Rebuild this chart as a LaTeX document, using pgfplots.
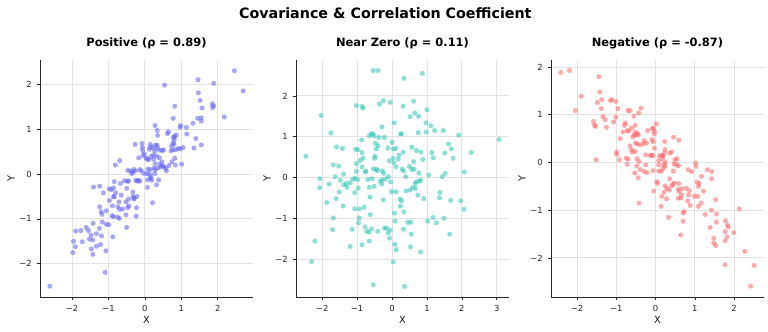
\documentclass[border=0pt]{standalone}
\usepackage{pgfplots}
\pgfplotsset{compat=1.18}
\usepackage{pgfplotstable}
\usepackage{fontspec}
\setmainfont{DejaVu Sans}
\definecolor{cpos}{RGB}{95,95,242}
\definecolor{czero}{RGB}{46,196,182}
\definecolor{cneg}{RGB}{255,100,100}
\definecolor{gridc}{RGB}{226,226,226}
\definecolor{spine}{RGB}{40,40,40}

\pgfplotstableread{
x y
2.46 2.30
2.70 1.85
1.46 2.10
1.89 2.02
0.54 1.98
1.47 1.81
1.52 1.64
1.85 1.56
1.89 1.52
1.86 1.48
1.57 1.47
0.82 1.51
2.18 1.27
1.45 1.24
1.55 1.25
1.55 1.18
1.32 1.13
0.78 1.24
0.98 1.08
0.97 1.04
1.14 1.04
0.28 1.08
0.34 0.97
0.35 0.86
0.65 0.94
0.62 0.90
1.15 0.89
0.86 0.87
0.82 0.84
0.78 0.82
0.81 0.77
0.78 0.70
0.80 0.66
1.40 0.79
1.55 0.65
1.35 0.58
1.05 0.59
0.92 0.57
0.97 0.56
0.73 0.63
0.77 0.54
0.85 0.54
0.72 0.52
-0.27 0.66
-0.08 0.68
-0.07 0.59
-0.06 0.52
0.15 0.66
0.29 0.64
0.34 0.64
0.16 0.60
0.23 0.58
0.35 0.57
0.12 0.55
0.27 0.51
0.41 0.53
0.48 0.52
0.51 0.54
-0.01 0.44
-0.05 0.41
0.04 0.35
0.07 0.33
-0.17 0.36
0.10 0.32
0.17 0.39
0.23 0.42
0.32 0.40
0.24 0.33
0.40 0.36
0.82 0.35
0.74 0.27
0.84 0.20
1.01 0.22
0.47 0.27
0.28 0.23
0.41 0.22
0.49 0.18
0.36 0.13
0.44 0.16
0.52 0.16
0.58 0.13
0.66 0.19
0.25 0.13
0.08 0.11
0.15 0.10
0.29 0.10
0.59 0.07
-0.69 0.30
-0.81 0.20
-0.47 0.08
-0.39 0.07
-0.33 0.04
-0.30 0.10
-0.26 0.07
-0.36 0.01
-0.14 0.10
-0.10 0.07
-0.02 0.01
0.06 0.01
0.13 -0.01
0.17 -0.07
0.15 -0.10
0.07 -0.13
0.19 -0.14
0.27 0.01
0.38 -0.13
0.32 -0.24
-0.21 -0.16
-0.17 -0.14
-0.25 -0.14
-0.14 -0.16
-0.56 -0.15
-0.48 -0.16
-0.45 -0.16
-0.67 -0.21
-0.84 -0.17
-1.41 -0.29
-1.24 -0.27
-1.14 -0.42
-0.98 -0.33
-0.92 -0.35
-0.86 -0.31
-0.80 -0.42
-0.84 -0.51
-0.97 -0.59
-0.86 -0.50
-0.65 -0.47
-0.50 -0.32
-0.33 -0.40
-0.33 -0.50
-0.29 -0.53
-0.22 -0.50
-0.30 -0.56
-0.45 -0.56
-0.52 -0.62
-0.71 -0.62
-0.89 -0.71
-0.74 -0.73
-0.69 -0.79
-0.61 -0.78
-0.47 -0.75
-0.44 -0.71
-0.23 -0.75
-0.24 -0.94
-0.52 -0.91
-0.75 -0.96
-0.70 -0.99
-0.90 -0.93
-0.86 -0.95
-1.24 -0.73
-1.20 -0.84
-1.18 -0.90
-1.06 -0.82
-1.17 -1.07
-1.06 -1.12
-0.99 -1.13
-1.42 -1.10
-1.25 -1.21
-1.33 -1.33
-1.19 -1.38
-1.48 -1.36
-1.61 -1.19
-1.55 -1.26
-1.76 -1.26
-1.90 -1.27
-1.96 -1.50
-1.72 -1.51
-1.91 -1.62
-1.52 -1.45
-1.43 -1.47
-1.22 -1.57
-1.33 -1.61
-1.47 -1.67
-1.43 -1.79
-1.98 -1.75
-1.07 -1.71
-0.88 -1.40
-0.50 -1.19
0.21 -0.64
0.07 -0.30
-1.09 -2.19
-2.61 -2.50
}\pos

\pgfplotstableread{
x y
-0.54 2.62
-0.40 2.62
0.34 2.43
0.87 2.55
-2.03 1.52
-1.02 1.76
-0.86 1.74
-0.83 1.70
-0.36 1.80
-0.25 1.88
-0.05 1.84
0.32 1.75
0.62 1.87
0.65 1.58
0.52 1.49
0.76 1.50
1.00 1.66
0.97 1.34
1.11 1.27
1.22 1.15
1.47 1.15
1.91 1.04
-0.29 1.24
0.06 1.34
-1.75 1.09
-0.87 0.92
-0.65 1.02
-0.60 1.07
-0.55 1.07
-0.51 1.02
-0.38 0.98
-0.22 0.98
0.25 1.07
0.27 1.07
0.98 1.11
0.75 1.10
-1.59 0.75
-1.42 0.71
-1.04 0.69
-0.97 0.68
-0.86 0.61
-0.48 0.84
-0.45 0.70
-0.40 0.78
-0.12 0.72
0.00 0.86
0.04 0.70
0.11 0.71
0.20 0.55
0.32 0.62
0.57 0.74
0.70 0.66
0.83 0.62
0.88 0.44
1.14 0.61
1.18 0.48
1.62 0.82
1.51 0.60
1.70 0.70
1.75 0.47
2.27 0.61
-2.47 0.52
-1.68 0.31
-1.53 0.28
-0.91 0.42
-1.02 0.34
-0.83 0.47
-1.02 0.15
-0.86 0.26
-0.75 0.16
-0.76 0.13
-0.53 0.21
-0.45 0.20
-0.42 0.17
-0.50 0.47
-0.49 0.52
-0.28 0.16
-0.24 0.10
-0.08 0.41
0.05 0.36
0.03 0.47
0.18 0.45
0.29 0.21
0.33 0.16
0.50 0.27
0.57 0.20
0.62 0.39
0.63 0.20
0.77 0.11
0.11 0.26
-1.63 0.02
-2.07 -0.03
-2.07 -0.25
-1.80 -0.16
-1.48 -0.07
-1.39 0.08
-1.31 -0.15
-1.38 -0.18
-1.29 -0.24
-1.20 -0.13
-1.12 -0.04
-1.06 -0.02
-0.98 -0.05
-0.69 -0.05
-0.57 -0.03
-0.65 -0.24
-0.51 -0.22
-0.34 -0.09
-0.28 -0.06
-0.19 -0.04
-0.10 0.02
-0.04 -0.11
-0.29 -0.16
-0.97 -0.26
-1.07 -0.37
-1.51 -0.36
-1.60 -0.52
-1.87 -0.61
-1.40 -0.70
-1.07 -0.77
-0.93 -0.77
-0.80 -0.73
-0.25 -0.55
-0.02 -0.35
0.11 -0.35
0.23 -0.53
0.27 -0.57
0.40 -0.33
0.52 -0.31
0.59 -0.25
0.67 -0.27
0.66 -0.15
0.78 -0.09
0.82 -0.07
0.69 -0.11
0.39 0.02
0.74 -0.43
0.91 -0.52
1.37 -0.37
1.36 -0.50
1.44 0.02
1.52 0.10
1.68 -0.56
1.97 -0.57
2.06 -0.78
2.07 0.13
1.05 0.06
3.07 0.93
-0.63 -0.48
-0.62 -0.91
-0.94 -0.99
-0.96 -1.11
-1.68 -0.99
-1.70 -1.28
-1.14 -1.27
-0.77 -1.21
-0.72 -1.32
-0.65 -1.34
-0.59 -1.26
-0.65 -1.56
-0.41 -1.32
-0.21 -1.24
-0.16 -1.24
-0.11 -1.36
-0.07 -1.49
-0.05 -1.29
0.09 -1.07
0.07 -0.87
0.24 -0.70
0.34 -0.84
0.45 -1.10
0.54 -1.10
0.55 -1.39
0.53 -1.70
0.33 -1.27
0.08 -1.64
0.12 -1.77
0.04 -2.07
0.82 -1.83
1.02 -1.07
1.17 -0.98
1.27 -1.11
1.49 -1.00
1.65 -1.39
-0.86 -1.65
-1.20 -1.69
-2.21 -1.56
-2.30 -2.06
-0.54 -2.63
0.36 -2.67
}\zero

\pgfplotstableread{
x y
-2.41 1.89
-2.19 1.93
-2.04 1.09
-1.89 1.39
-1.44 1.80
-1.42 1.48
-1.48 1.26
-1.37 1.32
-1.38 1.13
-1.34 0.96
-1.28 0.90
-1.58 0.86
-1.53 0.76
-1.55 0.78
-1.25 0.74
-1.07 0.85
-1.15 1.30
-1.11 1.32
-1.01 1.28
-0.96 1.13
-1.01 0.95
-1.51 0.06
-0.99 0.22
-0.99 0.17
-0.92 0.06
-0.90 0.50
-0.83 0.64
-0.79 0.78
-0.77 0.83
-0.70 1.09
-0.65 1.09
-0.72 0.67
-0.68 0.66
-0.61 0.72
-0.52 0.78
-0.58 0.54
-0.54 0.58
-0.50 0.57
-0.44 0.58
-0.52 0.64
-0.46 0.61
-0.55 0.97
-0.43 1.04
-0.37 1.14
-0.51 0.41
-0.47 0.39
-0.39 0.37
-0.31 0.39
-0.23 0.41
-0.29 0.46
-0.20 0.67
-0.08 0.71
-0.06 0.72
-0.03 0.65
-0.03 0.60
0.02 0.81
-0.09 0.48
-0.06 0.43
-0.03 0.30
-0.14 0.15
-0.10 0.15
-0.07 0.15
-0.25 0.16
-0.65 0.35
-0.61 0.27
-0.59 0.22
-0.52 0.23
-0.70 0.07
-0.72 -0.04
-0.75 0.09
-0.47 0.08
-0.42 0.02
-0.39 -0.15
-0.29 -0.19
-0.25 -0.05
-0.22 -0.21
-0.48 -0.07
-0.44 -0.32
-0.53 -0.22
-0.42 -0.85
-0.07 -0.17
0.03 -0.40
0.05 -0.44
-0.05 -0.60
0.08 0.04
0.10 0.14
0.15 0.15
0.20 0.14
0.22 0.19
0.24 0.27
0.18 0.08
0.25 0.01
0.21 -0.04
0.24 -0.08
0.19 -0.12
0.15 -0.18
0.08 -0.05
0.08 -0.18
0.23 0.44
0.46 0.53
0.59 0.47
0.36 0.20
0.41 0.22
0.49 0.06
0.55 0.08
0.47 -0.03
0.54 -0.05
0.58 -0.07
0.45 -0.18
0.36 -0.34
0.48 -0.43
0.44 -0.46
0.41 -0.49
0.24 -0.49
0.29 -0.54
0.35 -0.58
0.22 -0.62
0.16 -0.71
0.28 -0.76
0.59 -0.44
0.58 -0.56
0.60 -0.61
0.67 -0.55
0.66 -0.68
0.65 -0.74
0.58 -0.75
0.83 -0.15
0.92 -0.19
1.02 -0.01
1.03 -0.08
1.06 -0.41
1.09 -0.50
0.99 -0.71
1.08 -0.71
1.11 -0.44
1.17 -0.29
1.22 -0.60
0.86 -0.59
0.78 -0.54
0.84 -0.68
0.82 -0.81
0.88 -0.90
1.09 -0.92
1.16 -0.85
0.73 -1.03
0.70 -1.06
0.70 -1.23
0.64 -1.52
0.33 -1.15
0.14 -0.92
1.26 -1.09
1.32 -0.15
1.43 -0.19
1.43 -0.34
1.53 -0.78
1.42 -1.00
1.55 -1.08
1.55 -1.25
1.39 -1.36
1.48 -1.59
1.48 -1.69
1.53 -1.74
2.13 -0.97
1.78 -1.22
1.83 -1.31
1.85 -1.35
1.77 -1.45
1.82 -1.56
1.77 -1.64
1.99 -1.47
1.77 -2.14
2.27 -1.86
2.51 -2.16
2.42 -2.59
}\neg

\pgfplotsset{
  panel/.style={
    scale only axis, width=159.75pt, height=177.75pt,
    axis lines=left,
    axis line style={-, draw=spine, line width=0.6pt},
    grid=major, major grid style={draw=gridc, line width=0.6pt},
    tick align=outside, major tick length=2.6pt,
    tick style={draw=spine, line width=0.5pt},
    ticklabel style={font=\fontsize{6.3}{7}\selectfont, text=black!85},
    label style={font=\fontsize{7.4}{9}\selectfont, text=black!90},
    xlabel={X}, ylabel={Y},
    xlabel style={at={(axis description cs:0.5,-0.097)}, anchor=center},
    ylabel style={at={(axis description cs:-0.136,0.5)}, anchor=center},
    title style={at={(axis description cs:0.5,1)}, anchor=base, yshift=4.4pt,
      font=\bfseries\fontsize{8.6}{10}\selectfont},
  },
  dots/.style={only marks, mark=*, mark size=1.9pt, color=#1,
    mark options={draw opacity=0, fill=#1, fill opacity=0.55}},
}

\begin{document}
\begin{tikzpicture}
\useasboundingbox (0,0) rectangle (576pt,249pt);
\node[anchor=base, font=\bfseries\fontsize{10.7}{12}\selectfont] at (289pt,235.4pt)
  {Covariance \& Correlation Coefficient};

\begin{axis}[panel, at={(30pt,26.25pt)}, anchor=south west,
  title={Positive (ρ = 0.89)},
  xmin=-2.88, xmax=2.97, ymin=-2.74, ymax=2.54,
  xtick={-2,-1,0,1,2}, xticklabels={−2,−1,0,1,2},
  ytick={-2,-1,0,1,2}, yticklabels={−2,−1,0,1,2}]
\addplot[dots=cpos] table {\pos};
\end{axis}

\begin{axis}[panel, at={(222pt,26.25pt)}, anchor=south west,
  title={Near Zero (ρ = 0.11)},
  xmin=-2.75, xmax=3.35, ymin=-2.93, ymax=2.88,
  xtick={-2,-1,0,1,2,3}, xticklabels={−2,−1,0,1,2,3},
  ytick={-2,-1,0,1,2}, yticklabels={−2,−1,0,1,2}]
\addplot[dots=czero] table {\zero};
\end{axis}

\begin{axis}[panel, at={(413.25pt,26.25pt)}, anchor=south west,
  title={Negative (ρ = -0.87)},
  xmin=-2.66, xmax=2.76, ymin=-2.82, ymax=2.15,
  xtick={-2,-1,0,1,2}, xticklabels={−2,−1,0,1,2},
  ytick={-2,-1,0,1,2}, yticklabels={−2,−1,0,1,2}]
\addplot[dots=cneg] table {\neg};
\end{axis}
\end{tikzpicture}
\end{document}
